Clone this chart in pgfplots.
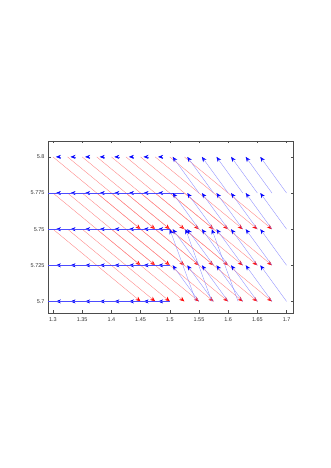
\documentclass[border=0pt]{standalone}
\usepackage{fontspec}
\setmainfont{Liberation Sans}
\usepackage{pgfplots}
\pgfplotsset{compat=1.18}
\usepackage{pgfplotstable}
\usetikzlibrary{arrows.meta}

\pgfplotstableread{
x y u v
1.300 5.800 0.15 -0.05
1.325 5.800 0.15 -0.05
1.350 5.800 0.15 -0.05
1.375 5.800 0.15 -0.05
1.400 5.800 0.15 -0.05
1.425 5.800 0.15 -0.05
1.450 5.800 0.15 -0.05
1.475 5.800 0.15 -0.05
1.500 5.800 0.15 -0.05
1.525 5.800 0.15 -0.05
1.300 5.775 0.15 -0.05
1.325 5.775 0.15 -0.05
1.350 5.775 0.15 -0.05
1.375 5.775 0.15 -0.05
1.400 5.775 0.15 -0.05
1.425 5.775 0.15 -0.05
1.450 5.775 0.15 -0.05
1.475 5.775 0.15 -0.05
1.500 5.775 0.15 -0.05
1.525 5.775 0.15 -0.05
1.300 5.750 0.15 -0.05
1.325 5.750 0.15 -0.05
1.350 5.750 0.15 -0.05
1.375 5.750 0.15 -0.05
1.400 5.750 0.15 -0.05
1.425 5.750 0.15 -0.05
1.450 5.750 0.15 -0.05
1.475 5.750 0.15 -0.05
1.500 5.750 0.15 -0.05
1.525 5.750 0.15 -0.05
}\redtab

\pgfplotstableread{
x y u v
1.314 5.800 -0.009 0
1.339 5.800 -0.009 0
1.364 5.800 -0.009 0
1.389 5.800 -0.009 0
1.414 5.800 -0.009 0
1.439 5.800 -0.009 0
1.464 5.800 -0.009 0
1.489 5.800 -0.009 0
1.314 5.775 -0.009 0
1.339 5.775 -0.009 0
1.364 5.775 -0.009 0
1.389 5.775 -0.009 0
1.414 5.775 -0.009 0
1.439 5.775 -0.009 0
1.464 5.775 -0.009 0
1.489 5.775 -0.009 0
1.314 5.750 -0.009 0
1.339 5.750 -0.009 0
1.364 5.750 -0.009 0
1.389 5.750 -0.009 0
1.414 5.750 -0.009 0
1.439 5.750 -0.009 0
1.464 5.750 -0.009 0
1.489 5.750 -0.009 0
1.314 5.725 -0.009 0
1.339 5.725 -0.009 0
1.364 5.725 -0.009 0
1.389 5.725 -0.009 0
1.414 5.725 -0.009 0
1.439 5.725 -0.009 0
1.464 5.725 -0.009 0
1.489 5.725 -0.009 0
1.314 5.700 -0.009 0
1.339 5.700 -0.009 0
1.364 5.700 -0.009 0
1.389 5.700 -0.009 0
1.414 5.700 -0.009 0
1.439 5.700 -0.009 0
1.464 5.700 -0.009 0
1.489 5.700 -0.009 0
}\blueshort

\pgfplotstableread{
x y u v
1.525 5.775 -0.3 0
1.500 5.750 -0.3 0
1.500 5.725 -0.3 0
1.500 5.700 -0.3 0
}\bluelong

\pgfplotstableread{
x y u v
1.550 5.775 -0.045 0.025
1.575 5.775 -0.045 0.025
1.600 5.775 -0.045 0.025
1.625 5.775 -0.045 0.025
1.650 5.775 -0.045 0.025
1.675 5.775 -0.045 0.025
1.700 5.775 -0.045 0.025
1.550 5.750 -0.045 0.025
1.575 5.750 -0.045 0.025
1.600 5.750 -0.045 0.025
1.625 5.750 -0.045 0.025
1.650 5.750 -0.045 0.025
1.675 5.750 -0.045 0.025
1.700 5.750 -0.045 0.025
1.550 5.725 -0.045 0.025
1.575 5.725 -0.045 0.025
1.600 5.725 -0.045 0.025
1.625 5.725 -0.045 0.025
1.650 5.725 -0.045 0.025
1.675 5.725 -0.045 0.025
1.700 5.725 -0.045 0.025
1.550 5.700 -0.045 0.025
1.575 5.700 -0.045 0.025
1.600 5.700 -0.045 0.025
1.625 5.700 -0.045 0.025
1.650 5.700 -0.045 0.025
1.675 5.700 -0.045 0.025
1.700 5.700 -0.045 0.025
1.545 5.700 -0.045 0.050
1.572 5.700 -0.045 0.050
1.617 5.700 -0.045 0.050
}\bluediag

\begin{document}
\begin{tikzpicture}[x=1pt,y=1pt]
\path[use as bounding box] (0,0) rectangle (331,468);
\begin{axis}[
  at={(48pt,155pt)}, anchor=south west,
  scale only axis, width=245pt, height=172pt,
  xmin=1.2915, xmax=1.711, ymin=5.692, ymax=5.811,
  xtick={1.3,1.35,1.4,1.45,1.5,1.55,1.6,1.65,1.7},
  xticklabels={1.3,1.35,1.4,1.45,1.5,1.55,1.6,1.65,1.7},
  ytick={5.7,5.725,5.75,5.775,5.8},
  yticklabels={5.7,5.725,5.75,5.775,5.8},
  tick align=inside, tick pos=both, major tick length=2.5pt,
  tick style={black!70, line width=0.4pt},
  axis line style={black!70, line width=0.5pt},
  tick label style={font=\fontsize{5.5}{6}\selectfont, text=black!80},
  xticklabel style={yshift=-1pt},
  clip=true,
]
\addplot[draw=red!50, line width=0.35pt, quiver={u=\thisrow{u}, v=\thisrow{v}},
  -{Stealth[length=5pt,width=4pt,color=red]}] table[x=x,y=y] {\redtab};
\addplot[draw=blue!60, line width=0.45pt, quiver={u=\thisrow{u}, v=\thisrow{v}},
  -{Stealth[length=5pt,width=4pt,color=blue]}] table[x=x,y=y] {\blueshort};
\addplot[draw=blue!70, line width=0.5pt, quiver={u=\thisrow{u}, v=\thisrow{v}}] table[x=x,y=y] {\bluelong};
\addplot[draw=blue!45, line width=0.35pt, quiver={u=\thisrow{u}, v=\thisrow{v}},
  -{Stealth[length=5pt,width=4pt,color=blue]}] table[x=x,y=y] {\bluediag};
\end{axis}
\end{tikzpicture}
\end{document}
